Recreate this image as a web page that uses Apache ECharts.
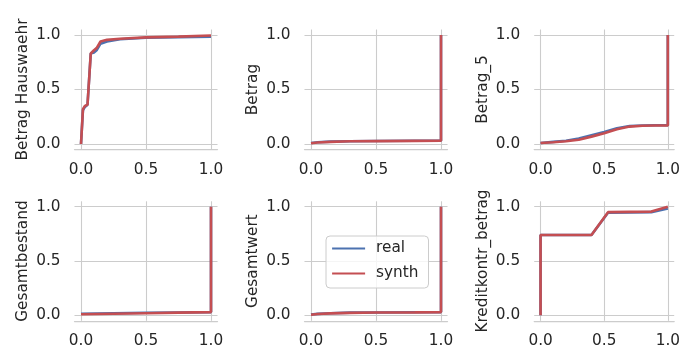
<!DOCTYPE html>
<html>
<head>
<meta charset="utf-8">
<script src="https://cdn.jsdelivr.net/npm/echarts@6/dist/echarts.min.js"></script>
<style>
html,body{margin:0;padding:0;background:#fff;}
#chart{width:683px;height:352px;}
</style>
</head>
<body>
<div id="chart"></div>
<script>
// Panel titles (y-axis names)
const panelNames = ['Betrag Hauswaehr', 'Betrag', 'Betrag_5', 'Gesamtbestand', 'Gesamtwert', 'Kreditkontr_betrag'];
const seriesNames = ['real', 'synth'];
const xTicks = [0, 0.5, 1];
const yTicks = [0, 0.5, 1];

// Panel 1: Betrag Hauswaehr
const p1RealX  = [0, 0.015, 0.03, 0.05, 0.06, 0.075, 0.1, 0.12, 0.15, 0.2, 0.3, 0.5, 0.75, 1.0];
const p1RealY  = [0, 0.31, 0.34, 0.36, 0.37, 0.83, 0.84, 0.86, 0.92, 0.94, 0.96, 0.975, 0.98, 0.985];
const p1SynthX = [0, 0.015, 0.03, 0.05, 0.06, 0.075, 0.1, 0.12, 0.15, 0.2, 0.3, 0.5, 0.75, 1.0];
const p1SynthY = [0, 0.32, 0.35, 0.36, 0.37, 0.83, 0.86, 0.88, 0.94, 0.955, 0.965, 0.978, 0.985, 0.995];

// Panel 2: Betrag
const p2RealX  = [0, 0.05, 0.15, 0.3, 0.5, 0.8, 1.0, 1.0];
const p2RealY  = [0.01, 0.016, 0.022, 0.026, 0.028, 0.03, 0.03, 1.0];
const p2SynthX = [0, 0.05, 0.15, 0.3, 0.5, 0.8, 1.0, 1.0];
const p2SynthY = [0.008, 0.014, 0.02, 0.025, 0.027, 0.029, 0.03, 1.0];

// Panel 3: Betrag_5
const p3RealX  = [0, 0.1, 0.2, 0.3, 0.4, 0.5, 0.6, 0.7, 0.8, 0.9, 1.0, 1.0];
const p3RealY  = [0.01, 0.02, 0.03, 0.05, 0.08, 0.11, 0.145, 0.165, 0.17, 0.172, 0.172, 1.0];
const p3SynthX = [0, 0.1, 0.2, 0.3, 0.4, 0.5, 0.6, 0.7, 0.8, 0.9, 1.0, 1.0];
const p3SynthY = [0.01, 0.017, 0.025, 0.04, 0.068, 0.1, 0.135, 0.16, 0.168, 0.17, 0.17, 1.0];

// Panel 4: Gesamtbestand
const p4RealX  = [0, 0.25, 0.5, 0.75, 1.0, 1.0];
const p4RealY  = [0.015, 0.02, 0.024, 0.027, 0.03, 1.0];
const p4SynthX = [0, 0.25, 0.5, 0.75, 1.0, 1.0];
const p4SynthY = [0.01, 0.015, 0.02, 0.025, 0.03, 1.0];

// Panel 5: Gesamtwert
const p5RealX  = [0, 0.05, 0.15, 0.3, 0.5, 0.8, 1.0, 1.0];
const p5RealY  = [0.008, 0.014, 0.02, 0.025, 0.027, 0.029, 0.03, 1.0];
const p5SynthX = [0, 0.05, 0.15, 0.3, 0.5, 0.8, 1.0, 1.0];
const p5SynthY = [0.006, 0.012, 0.018, 0.023, 0.026, 0.028, 0.03, 1.0];

// Panel 6: Kreditkontr_betrag
const p6RealX  = [0, 0, 0.4, 0.53, 0.87, 1.0];
const p6RealY  = [0, 0.74, 0.74, 0.945, 0.95, 0.985];
const p6SynthX = [0, 0, 0.4, 0.53, 0.87, 1.0];
const p6SynthY = [0, 0.74, 0.74, 0.95, 0.955, 1.0];

const panels = [
  [p1RealX, p1RealY, p1SynthX, p1SynthY],
  [p2RealX, p2RealY, p2SynthX, p2SynthY],
  [p3RealX, p3RealY, p3SynthX, p3SynthY],
  [p4RealX, p4RealY, p4SynthX, p4SynthY],
  [p5RealX, p5RealY, p5SynthX, p5SynthY],
  [p6RealX, p6RealY, p6SynthX, p6SynthY]
];

const colors = ['#4C72B0', '#C44E52'];
const textColor = '#262626';
const fontFamily = 'DejaVu Sans';
const fs = 15.3;

const colLeft = [74.5, 304.5, 534.2];
const rowTop = [29.5, 201.3];
const gw = 143, gh = [120, 119.5];

const zip = (xs, ys) => xs.map((x, i) => [x, ys[i]]);

const grid = [], xAxis = [], yAxis = [], series = [];
panels.forEach((p, i) => {
  const r = Math.floor(i / 3), c = i % 3;
  grid.push({left: colLeft[c], top: rowTop[r], width: gw, height: gh[r], containLabel: false});
  xAxis.push({
    type: 'value', gridIndex: i, min: -0.05, max: 1.05,
    axisLine: {show: true, onZero: false, lineStyle: {color: '#cccccc', width: 1.25}},
    axisTick: {show: false, customValues: xTicks},
    axisLabel: {customValues: xTicks, color: textColor, fontSize: fs, fontFamily: fontFamily, margin: 13,
      formatter: v => v.toFixed(1)},
    splitLine: {show: true, lineStyle: {color: '#cccccc', width: 1.1}}
  });
  yAxis.push({
    type: 'value', gridIndex: i, min: -0.05, max: 1.05,
    name: panelNames[i], nameLocation: 'middle', nameGap: 44, nameRotate: 90,
    nameTextStyle: {color: textColor, fontSize: fs, fontFamily: fontFamily},
    axisLine: {show: false},
    axisTick: {show: false, customValues: yTicks},
    axisLabel: {customValues: yTicks, color: textColor, fontSize: fs, fontFamily: fontFamily, margin: 14,
      formatter: v => v.toFixed(1)},
    splitLine: {show: true, lineStyle: {color: '#cccccc', width: 1.1}}
  });
  [0, 1].forEach(k => {
    series.push({
      name: seriesNames[k], type: 'line', xAxisIndex: i, yAxisIndex: i,
      data: zip(p[k * 2], p[k * 2 + 1]),
      symbol: 'none', silent: true, animation: false,
      lineStyle: {color: colors[k], width: 2.6},
      itemStyle: {color: colors[k]},
      z: 2 + k
    });
  });
});

const chart = echarts.init(document.getElementById('chart'), null, {renderer: 'canvas'});
chart.setOption({
  animation: false,
  backgroundColor: '#ffffff',
  color: colors,
  grid, xAxis, yAxis, series,
  legend: {
    data: seriesNames, orient: 'vertical', left: 326, top: 236,
    itemWidth: 33, itemHeight: 14, itemGap: 10,
    padding: [5, 10, 7, 5],
    backgroundColor: 'rgba(255,255,255,0.8)', borderColor: '#cccccc', borderWidth: 1, borderRadius: 4,
    textStyle: {color: textColor, fontSize: fs, fontFamily: fontFamily, padding: [0, 0, 0, 6]},
    itemStyle: {opacity: 0},
    lineStyle: {width: 2.2}
  }
});
</script>
</body>
</html>
